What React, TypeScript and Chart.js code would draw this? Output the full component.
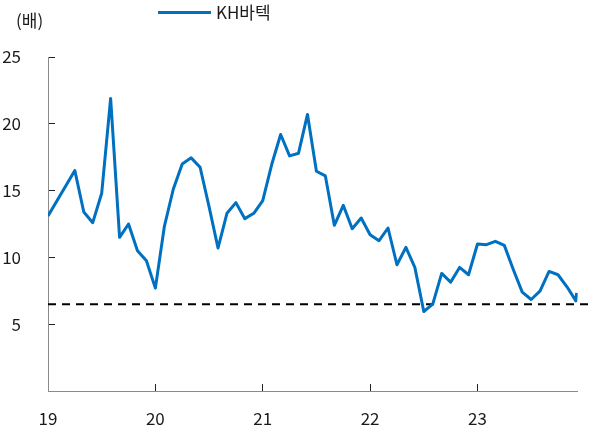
import { useEffect, useRef } from 'react';
import { Chart, registerables } from 'chart.js';

Chart.register(...registerables);

const seriesName = 'KH바텍';
const unitLabel = '(배)';

// month index from Jan 2019 (0 = Jan 2019)
const months = [
  0, 3, 4, 5, 6, 7, 8, 9, 10, 11,
  12, 13, 14, 15, 16, 17, 18, 19, 20, 21, 22, 23,
  24, 25, 26, 27, 28, 29, 30, 31, 32, 33, 34, 35,
  36, 37, 38, 39, 40, 41, 42, 43, 44, 45, 46, 47,
  48, 49, 50, 51, 52, 53, 54, 55, 56, 57, 58, 59, 59.08,
];
const perValues = [
  13.1, 16.5, 13.4, 12.6, 14.8, 21.9, 11.5, 12.5, 10.5, 9.75,
  7.7, 12.3, 15.1, 17.0, 17.45, 16.75, 13.8, 10.7, 13.3, 14.1, 12.9, 13.3,
  14.25, 16.95, 19.2, 17.6, 17.8, 20.7, 16.45, 16.1, 12.4, 13.9, 12.15, 12.95,
  11.7, 11.25, 12.2, 9.45, 10.75, 9.25, 5.95, 6.5, 8.8, 8.15, 9.25, 8.7,
  11.0, 10.95, 11.2, 10.9, 9.1, 7.4, 6.85, 7.5, 8.95, 8.7, 7.8, 6.75, 7.35,
];

const thresholdValue = 6.5;
const thresholdMonths = [0, 61];

const xTickMonths = [0, 12, 24, 36, 48];
const xTickLabels = ['19', '20', '21', '22', '23'];
const yTicks = [0, 5, 10, 15, 20, 25];

const FONT_FAMILY = '"Noto Sans CJK KR", "Noto Sans", sans-serif';
const LINE_COLOR = '#0070C0';
const TEXT_COLOR = '#1a1a1a';

export default function App() {
  const canvasRef = useRef<HTMLCanvasElement | null>(null);

  useEffect(() => {
    if (!canvasRef.current) return;
    const font = { family: FONT_FAMILY, size: 17 };
    const chart = new Chart(canvasRef.current, {
      type: 'line',
      data: {
        datasets: [
          {
            label: seriesName,
            data: months.map((m, i) => ({ x: m, y: perValues[i] })),
            borderColor: LINE_COLOR,
            backgroundColor: LINE_COLOR,
            borderWidth: 3,
            pointRadius: 0,
            tension: 0,
            borderJoinStyle: 'round',
            order: 0,
          },
          {
            label: 'threshold',
            data: thresholdMonths.map((m) => ({ x: m, y: thresholdValue })),
            borderColor: '#000000',
            borderWidth: 2,
            borderDash: [8, 6],
            pointRadius: 0,
            tension: 0,
            clip: { left: 0, top: 0, right: 20, bottom: 0 },
            order: 1,
          },
        ],
      },
      options: {
        animation: false,
        responsive: false,
        maintainAspectRatio: false,
        layout: { padding: { top: 57, right: 13.3, left: 0, bottom: 0 } },
        plugins: {
          legend: { display: false },
          tooltip: { enabled: false },
        },
        scales: {
          x: {
            type: 'linear',
            min: 0,
            max: 59.2,
            afterBuildTicks: (s: any) => {
              s.ticks = xTickMonths.map((v) => ({ value: v }));
            },
            afterFit: (s: any) => {
              s.height = 39;
              s.paddingLeft = 0;
              s.paddingRight = 0;
            },
            ticks: {
              callback: (v: any) => {
                const i = xTickMonths.indexOf(Number(v));
                return i >= 0 ? xTickLabels[i] : '';
              },
              font,
              color: TEXT_COLOR,
              padding: 24.5,
              maxRotation: 0,
              autoSkip: false,
            },
            grid: { drawOnChartArea: false, tickLength: -7, color: '#222222' },
            border: { color: '#8a8a8a', width: 1 },
          },
          y: {
            min: 0,
            max: 25,
            afterBuildTicks: (s: any) => {
              s.ticks = yTicks.map((v) => ({ value: v }));
            },
            afterFit: (s: any) => {
              s.width = 48;
              s.paddingTop = 0;
              s.paddingBottom = 0;
            },
            ticks: {
              callback: (v: any) => (Number(v) === 0 ? '' : String(v)),
              font,
              color: TEXT_COLOR,
              padding: 34,
            },
            grid: { drawOnChartArea: false, tickLength: -7, color: '#222222' },
            border: { color: '#8a8a8a', width: 1 },
          },
        },
      },
    } as any);
    return () => chart.destroy();
  }, []);

  return (
    <div
      style={{
        position: 'fixed',
        left: 0,
        top: 0,
        width: 591,
        height: 430,
        background: '#ffffff',
        fontFamily: FONT_FAMILY,
        color: TEXT_COLOR,
      }}
    >
      <canvas ref={canvasRef} width={591} height={430} style={{ position: 'absolute', left: 0, top: 0 }} />
      <div style={{ position: 'absolute', left: 16, top: 11, fontSize: 17, lineHeight: '17px', whiteSpace: 'nowrap' }}>
        {unitLabel}
      </div>
      <div style={{ position: 'absolute', left: 158, top: 11, width: 53, height: 3, background: LINE_COLOR }} />
      <div style={{ position: 'absolute', left: 216, top: 3, fontSize: 17, lineHeight: '17px', whiteSpace: 'nowrap' }}>
        {seriesName}
      </div>
    </div>
  );
}
